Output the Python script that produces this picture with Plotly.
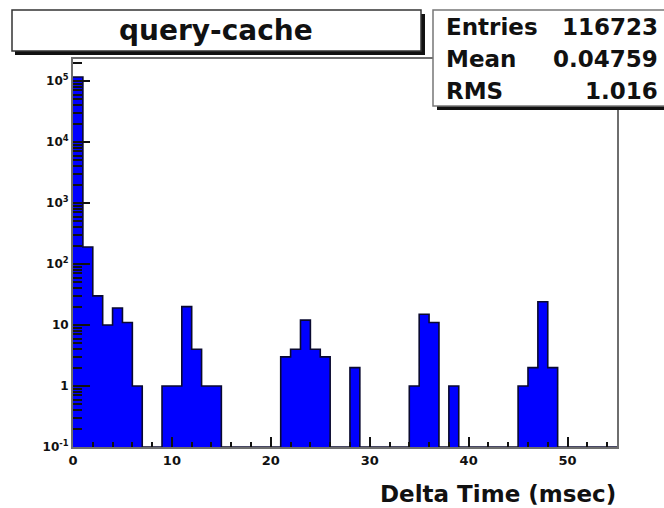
import plotly.graph_objects as go

# ---------------- data ----------------
bin_lo, bin_hi, n_bins = 0.0, 55.0, 55
counts = [116349, 190, 30, 10, 19, 11, 1, 0, 0, 1, 1, 20, 4, 1, 1,
          0, 0, 0, 0, 0, 0,
          3, 4, 12, 4, 3,
          0, 0,
          2,
          0, 0, 0, 0, 0,
          1, 15, 11, 0, 1,
          0, 0, 0, 0, 0, 0,
          1, 2, 24, 2,
          0, 0, 0, 0, 0, 0]
x_tick_vals = [0, 10, 20, 30, 40, 50]
x_tick_text = ["0", "10", "20", "30", "40", "50"]
y_exponents = [-1, 0, 1, 2, 3, 4, 5]
y_tick_text = ["10<sup>-1</sup>", "1", "10", "10<sup>2</sup>", "10<sup>3</sup>",
               "10<sup>4</sup>", "10<sup>5</sup>"]
stat_names = ["Entries", "Mean", "RMS"]
stat_values = ["116723", "0.04759", "1.016"]
title_text = "query-cache"
x_title = "Delta Time (msec)"

# ---------------- layout geometry ----------------
W, H = 664, 508
L, R, T, B = 73, 617, 59, 447
Y_MIN, Y_MAX = -1.0, 5.36
FONT = "DejaVu Sans"


def px(x):
    return (x - L) / (R - L)


def py(y):
    return (B - y) / (B - T)


bw = (bin_hi - bin_lo) / n_bins
centers = [bin_lo + (i + 0.5) * bw for i in range(n_bins)]
edges = [bin_lo + i * bw for i in range(n_bins + 1)]
floor = 10 ** Y_MIN
outline_y = [c if c > 0 else floor for c in counts]
outline_y = outline_y + [outline_y[-1]]

fig = go.Figure()
fig.add_trace(go.Bar(
    x=centers, y=[c if c > 0 else None for c in counts], width=bw,
    marker=dict(color="#0000ff", line=dict(width=0)),
    showlegend=False, hoverinfo="x+y"))
fig.add_trace(go.Scatter(
    x=edges, y=outline_y, mode="lines", line_shape="hv",
    line=dict(color="#0a0a30", width=1.6), showlegend=False, hoverinfo="skip"))
# dummy trace for the minor-tick overlay axis
fig.add_trace(go.Scatter(x=[None], y=[None], yaxis="y2", showlegend=False,
                         hoverinfo="skip"))

minor_vals = [m * 10 ** e for e in range(-1, 6) for m in range(2, 10)
              if m * 10 ** e < 10 ** Y_MAX]

fig.update_layout(
    width=W, height=H,
    margin=dict(l=L, r=W - R, t=T, b=H - B),
    paper_bgcolor="white", plot_bgcolor="white",
    bargap=0,
    xaxis=dict(range=[bin_lo, bin_hi], tickvals=x_tick_vals, ticktext=x_tick_text,
               ticks="inside", ticklen=10, tickwidth=1.5, tickcolor="#111",
               minor=dict(dtick=2, ticks="inside", ticklen=5, tickwidth=1.5,
                          tickcolor="#111"),
               showline=True, mirror=True, linecolor="#6e6e6e", linewidth=2,
               showgrid=False, zeroline=False,
               tickfont=dict(family=FONT, size=13, color="#111", weight="bold")),
    yaxis=dict(type="log", range=[Y_MIN, Y_MAX],
               tickvals=[10 ** e for e in y_exponents], ticktext=y_tick_text,
               ticks="inside", ticklen=17, tickwidth=1.5, tickcolor="#111",
               showline=True, mirror=True, linecolor="#6e6e6e", linewidth=2,
               showgrid=False, zeroline=False,
               tickfont=dict(family=FONT, size=12, color="#111", weight="bold")),
    yaxis2=dict(type="log", range=[Y_MIN, Y_MAX], overlaying="y", side="left",
                anchor="x", tickvals=minor_vals, ticks="inside", ticklen=9,
                tickwidth=1.5, tickcolor="#111", showticklabels=False,
                showgrid=False, showline=False, zeroline=False),
)

shapes = []
# title box (shadow then box)
shapes.append(dict(type="rect", xref="paper", yref="paper",
                   x0=px(15), x1=px(425), y0=py(55), y1=py(14),
                   fillcolor="#111", line=dict(width=0)))
shapes.append(dict(type="rect", xref="paper", yref="paper",
                   x0=px(12), x1=px(421), y0=py(51), y1=py(10),
                   fillcolor="white", line=dict(color="#333", width=1.5)))
# stats box
shapes.append(dict(type="rect", xref="paper", yref="paper",
                   x0=px(437), x1=px(690), y0=py(110), y1=py(14),
                   fillcolor="#111", line=dict(width=0)))
shapes.append(dict(type="rect", xref="paper", yref="paper",
                   x0=px(433), x1=px(686), y0=py(106), y1=py(10),
                   fillcolor="white", line=dict(color="#777", width=1.5)))
fig.update_layout(shapes=shapes)

ann = []
ann.append(dict(text=title_text, xref="paper", yref="paper", x=px(216), y=py(30),
                xanchor="center", yanchor="middle", showarrow=False,
                font=dict(family=FONT, size=28, color="#111", weight="bold")))
row_y = [27, 59, 91]
for name, val, yy in zip(stat_names, stat_values, row_y):
    ann.append(dict(text=name, xref="paper", yref="paper", x=px(444), y=py(yy),
                    xanchor="left", yanchor="middle", showarrow=False,
                    font=dict(family=FONT, size=23, color="#111", weight="bold")))
    ann.append(dict(text=val, xref="paper", yref="paper", x=px(660), y=py(yy),
                    xanchor="right", yanchor="middle", showarrow=False,
                    font=dict(family=FONT, size=23, color="#111", weight="bold")))
ann.append(dict(text=x_title, xref="paper", yref="paper", x=px(618), y=py(494),
                xanchor="right", yanchor="middle", showarrow=False,
                font=dict(family=FONT, size=23, color="#111", weight="bold")))
fig.update_layout(annotations=ann)

fig.write_html(
    "out.html",
    config={"displayModeBar": False},
    post_script="document.body.style.margin='0';document.body.style.overflow='hidden';",
)
